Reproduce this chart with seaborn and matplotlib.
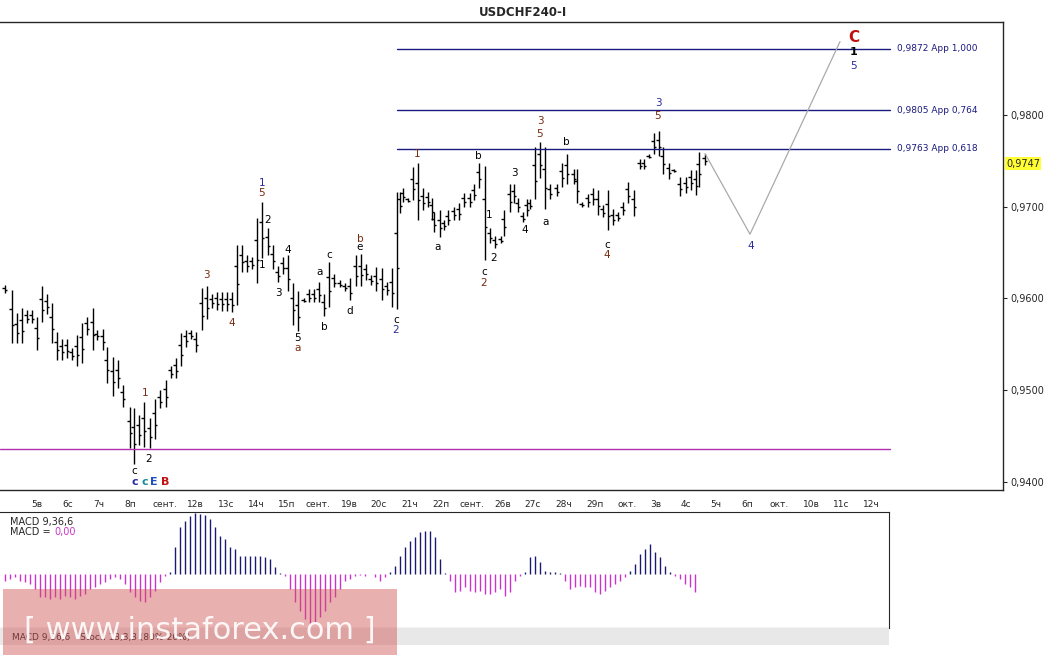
import matplotlib
matplotlib.use("Agg")
import matplotlib.pyplot as plt
import matplotlib.patches as mpatches
import seaborn as sns
import pandas as pd

sns.set_style("white")
plt.rcParams['font.family'] = ['DejaVu Sans']

# --- OHLC bars (x = bar position on the time axis, high, low) ---
bar_x = [5, 12, 17, 22, 27, 32, 37, 42, 47, 52, 57, 62, 67, 72, 77, 82, 87, 93, 97, 103,
         107, 113, 118, 123, 130, 134, 139, 144, 150, 155, 160, 166, 171, 176, 181, 186, 191, 196,
         202, 207, 212, 217, 222, 227, 232, 237, 242, 247, 252, 257, 262, 268, 273, 278, 283, 288,
         293, 298, 304, 309, 314, 319, 324, 329, 334, 340, 345, 350, 356, 361, 366, 371, 376, 382,
         387, 392, 397, 400, 403, 408, 413, 418, 423, 428, 432, 434, 440, 444, 448, 454, 459, 464,
         470, 474, 479, 485, 490, 495, 501, 504, 510, 514, 518, 523, 527, 530, 535, 540, 545, 550,
         557, 562, 567, 574, 577, 582, 588, 593, 598, 603, 608, 613, 618, 623, 628, 634, 640, 644,
         649, 654, 659, 663, 669, 674, 680, 686, 691, 696, 699, 705]
bar_high = [0.9615, 0.9609, 0.9584, 0.9590, 0.9587, 0.9587, 0.9580, 0.9613, 0.9605, 0.9595, 0.9563,
            0.9556, 0.9556, 0.9546, 0.9560, 0.9573, 0.9580, 0.9590, 0.9565, 0.9567, 0.9547, 0.9536,
            0.9533, 0.9506, 0.9482, 0.9481, 0.9473, 0.9487, 0.9470, 0.9490, 0.9500, 0.9511, 0.9526,
            0.9535, 0.9562, 0.9565, 0.9565, 0.9563, 0.9611, 0.9613, 0.9605, 0.9607, 0.9607, 0.9607,
            0.9607, 0.9658, 0.9658, 0.9647, 0.9645, 0.9688, 0.9705, 0.9677, 0.9658, 0.9635, 0.9645,
            0.9647, 0.9617, 0.9608, 0.9600, 0.9610, 0.9610, 0.9618, 0.9605, 0.9640, 0.9627, 0.9620,
            0.9617, 0.9622, 0.9647, 0.9648, 0.9638, 0.9625, 0.9634, 0.9633, 0.9618, 0.9633, 0.9716,
            0.9716, 0.9720, 0.9710, 0.9743, 0.9748, 0.9720, 0.9716, 0.9710, 0.9694, 0.9696, 0.9686,
            0.9696, 0.9700, 0.9704, 0.9715, 0.9715, 0.9725, 0.9748, 0.9744, 0.9677, 0.9668, 0.9668,
            0.9696, 0.9725, 0.9725, 0.9710, 0.9694, 0.9708, 0.9708, 0.9765, 0.9771, 0.9765, 0.9725,
            0.9725, 0.9748, 0.9757, 0.9741, 0.9741, 0.9705, 0.9714, 0.9720, 0.9718, 0.9702, 0.9718,
            0.9697, 0.9694, 0.9705, 0.9727, 0.9718, 0.9752, 0.9752, 0.9757, 0.9780, 0.9783, 0.9765,
            0.9748, 0.9741, 0.9732, 0.9732, 0.9740, 0.9740, 0.9760, 0.9758]
bar_low = [0.9606, 0.9551, 0.9551, 0.9551, 0.9573, 0.9573, 0.9544, 0.9574, 0.9583, 0.9551, 0.9533,
           0.9533, 0.9535, 0.9533, 0.9526, 0.9530, 0.9560, 0.9544, 0.9555, 0.9544, 0.9508, 0.9494,
           0.9502, 0.9482, 0.9437, 0.9419, 0.9440, 0.9438, 0.9437, 0.9447, 0.9480, 0.9482, 0.9513,
           0.9513, 0.9526, 0.9547, 0.9556, 0.9542, 0.9565, 0.9577, 0.9590, 0.9587, 0.9586, 0.9586,
           0.9585, 0.9593, 0.9629, 0.9629, 0.9632, 0.9617, 0.9644, 0.9647, 0.9632, 0.9618, 0.9627,
           0.9608, 0.9571, 0.9564, 0.9596, 0.9596, 0.9596, 0.9596, 0.9581, 0.9591, 0.9612, 0.9612,
           0.9608, 0.9598, 0.9613, 0.9613, 0.9620, 0.9615, 0.9608, 0.9598, 0.9604, 0.9591, 0.9588,
           0.9693, 0.9705, 0.9705, 0.9707, 0.9686, 0.9696, 0.9700, 0.9686, 0.9672, 0.9667, 0.9675,
           0.9680, 0.9686, 0.9686, 0.9700, 0.9700, 0.9707, 0.9720, 0.9642, 0.9660, 0.9655, 0.9660,
           0.9668, 0.9694, 0.9704, 0.9694, 0.9683, 0.9690, 0.9697, 0.9708, 0.9731, 0.9697, 0.9708,
           0.9712, 0.9722, 0.9725, 0.9725, 0.9704, 0.9700, 0.9700, 0.9702, 0.9691, 0.9689, 0.9675,
           0.9680, 0.9684, 0.9691, 0.9704, 0.9690, 0.9741, 0.9741, 0.9753, 0.9757, 0.9755, 0.9736,
           0.9730, 0.9738, 0.9712, 0.9715, 0.9718, 0.9713, 0.9722, 0.9745]

# --- MACD histogram ---
macd_x = list(range(5, 710, 5))
macd_val = [-20, -15, -10, -20, -25, -30, -45, -70, -70, -75, -70, -75, -65, -70, -75, -65, -60, -45,
            -40, -30, -25, -15, -10, -15, -30, -55, -70, -80, -85, -70, -50, -25, -5,
            5, 80, 140, 160, 175, 182, 180, 178, 165, 140, 115, 105, 80, 75, 55, 55, 55, 55, 55, 50, 45, 20,
            2, -5, -45, -85, -110, -135, -150, -145, -130, -110, -85, -70, -45, -20, -15, -5, -2, -5, 0, -10,
            -20, -10,
            5, 25, 55, 80, 100, 110, 125, 130, 130, 110, 45, 2,
            -20, -55, -50, -40, -50, -55, -50, -60, -60, -55, -45, -65, -55, -20, -5,
            5, 50, 55, 35, 10, 5, 5, 2,
            -20, -45, -40, -35, -40, -40, -55, -60, -50, -40, -30, -20, -10,
            10, 30, 60, 75, 90, 65, 50, 25, 5,
            -5, -15, -30, -40, -55]
macd_x = macd_x[:len(macd_val)]

# --- date axis ---
date_pos = [37, 68, 99, 130, 165, 195, 226, 256, 287, 318, 349, 379, 410, 441, 472, 503, 533, 564,
            595, 627, 656, 686, 716, 747, 779, 811, 841, 871]
date_lab = ['5в', '6с', '7ч', '8п', 'сент.', '12в', '13с', '14ч', '15п', 'сент.', '19в', '20с', '21ч',
            '22п', 'сент.', '26в', '27с', '28ч', '29п', 'окт.', '3в', '4с', '5ч', '6п', 'окт.', '10в',
            '11с', '12ч']

price_ticks = [0.9400, 0.9500, 0.9600, 0.9700, 0.9800]
levels = [0.9872, 0.9805, 0.9763]
level_lab = ['0,9872 App 1,000', '0,9805 App 0,764', '0,9763 App 0,618']
support = 0.9436
last_price = 0.9747
proj_x = [705, 750, 840]
proj_y = [0.9758, 0.9670, 0.9880]

BROWN, NAVY, BLACK = '#7a2a10', '#2a2aa0', '#000000'
waves = [
    (134, 471, 'c', BLACK), (145, 393, '1', BROWN), (149, 459, '2', BLACK), (206, 275, '3', BROWN),
    (232, 323, '4', BROWN), (262, 183, '1', NAVY), (262, 193, '5', BROWN), (268, 220, '2', BLACK),
    (262, 265, '1', BLACK), (288, 250, '4', BLACK), (278, 293, '3', BLACK), (298, 338, '5', BLACK),
    (298, 348, 'a', BROWN), (320, 272, 'a', BLACK), (329, 255, 'c', BLACK), (324, 327, 'b', BLACK),
    (360, 239, 'b', BROWN), (360, 247, 'e', BLACK), (350, 311, 'd', BLACK), (396, 320, 'c', BLACK),
    (396, 330, '2', NAVY), (417, 154, '1', BROWN), (438, 247, 'a', BLACK), (478, 156, 'b', BLACK),
    (489, 215, '1', BLACK), (484, 272, 'c', BLACK), (484, 283, '2', BROWN), (494, 258, '2', BLACK),
    (514, 173, '3', BLACK), (525, 230, '4', BLACK), (540, 121, '3', BROWN), (540, 134, '5', BROWN),
    (546, 222, 'a', BLACK), (566, 142, 'b', BLACK), (607, 245, 'c', BLACK), (607, 255, '4', BROWN),
    (658, 103, '3', NAVY), (658, 116, '5', BROWN), (751, 246, '4', NAVY), (854, 66, '5', NAVY),
]


def px_to_price(y):
    return 0.98 - (y - 115) / 9170.0


W, H = 1047, 658
fig = plt.figure(figsize=(W / 100, H / 100), dpi=100)
ax = fig.add_axes([0, (H - 490) / H, 1003 / W, 468 / H])
ax.set_xlim(0, 1003)
ax.set_ylim(px_to_price(490), px_to_price(22))

df = pd.DataFrame({'x': bar_x, 'high': bar_high, 'low': bar_low})
ax.vlines(df['x'], df['low'], df['high'], color='black', lw=1.0)
rng = df['high'] - df['low']
ax.hlines(df['low'] + rng * 0.65, df['x'] - 2.5, df['x'], color='black', lw=1.0)
ax.hlines(df['low'] + rng * 0.35, df['x'], df['x'] + 2.5, color='black', lw=1.0)

for lv, lab in zip(levels, level_lab):
    ax.plot([397, 890], [lv, lv], color='#1a1a80', lw=1)
    ax.text(897, lv, lab, color='#1a1a80', fontsize=6.5, va='center')
ax.plot([0, 890], [support, support], color='#b030b0', lw=1)
sns.lineplot(x=proj_x, y=proj_y, ax=ax, color='#aaaaaa', lw=0.9, sort=False)

for x, y, t, c in waves:
    ax.text(x, px_to_price(y), t, color=c, fontsize=7.5, ha='center', va='center')
ax.text(854, px_to_price(38), 'C', color='#c01010', fontsize=11, fontweight='bold', ha='center', va='center')
ax.text(854, px_to_price(52), '1', color=BLACK, fontsize=8, fontweight='bold', ha='center', va='center')
for x, t, c in [(135, 'c', NAVY), (145, 'c', '#1a8a9a'), (154, 'E', '#2050c0'), (165, 'B', '#c01010')]:
    ax.text(x, px_to_price(482), t, color=c, fontsize=8, fontweight='bold', ha='center', va='center')

ax.yaxis.tick_right()
ax.set_yticks(price_ticks)
ax.set_yticklabels([f'{p:.4f}'.replace('.', ',') for p in price_ticks], fontsize=7)
ax.tick_params(axis='y', length=3, pad=2)
ax.set_xticks(date_pos)
ax.set_xticklabels(date_lab, fontsize=6.5)
ax.tick_params(axis='x', length=3, pad=4)
ax.text(1006, last_price, '0,9747', fontsize=7, va='center', ha='left',
        bbox=dict(boxstyle='square,pad=0.15', fc='#ffff33', ec='none'))
for s in ax.spines.values():
    s.set_linewidth(1)
ax.spines['left'].set_visible(False)
fig.text(0.5, 1 - 12 / H, 'USDCHF240-I', ha='center', va='center', fontsize=8.5, fontweight='bold')

# MACD panel
ax2 = fig.add_axes([0, (H - 628) / H, 889 / W, 116 / H])
ax2.set_xlim(0, 889)
ax2.set_ylim(-162, 186)
cols = ['#1a1a70' if v > 0 else '#cc33cc' for v in macd_val]
ax2.vlines(macd_x, 0, macd_val, colors=cols, lw=1)
ax2.set_xticks([])
ax2.set_yticks([])
ax2.spines['left'].set_visible(False)
ax2.text(10, 170, 'MACD 9,36,6', fontsize=7, va='top')
ax2.text(10, 140, 'MACD =', fontsize=7, va='top')
ax2.text(54, 140, '0,00', fontsize=7, va='top', color='#cc33cc')

# bottom hatched strip
ax3 = fig.add_axes([0, (H - 645) / H, 889 / W, 17 / H])
ax3.set_xlim(0, 889)
ax3.set_ylim(0, 1)
ax3.add_patch(mpatches.Rectangle((0, 0), 889, 1, fc='#e8e8e8', ec='none', hatch='.....'))
ax3.axis('off')
ax3.text(12, 0.45, 'MACD 9,36,6', fontsize=6.5, va='center')
ax3.text(80, 0.45, 'Stoch 13,3,3 (80%-20%)', fontsize=6.5, va='center')

# watermark
fig.patches.append(mpatches.Rectangle((3 / W, 3 / H), 394 / W, 66 / H, transform=fig.transFigure,
                                      fc='#d05050', alpha=0.45, ec='none'))
fig.text(200 / W, 28 / H, '[ www.instaforex.com ]', color='white', fontsize=22, ha='center',
         va='center', alpha=0.9)

fig.savefig('out.png', dpi=100)
